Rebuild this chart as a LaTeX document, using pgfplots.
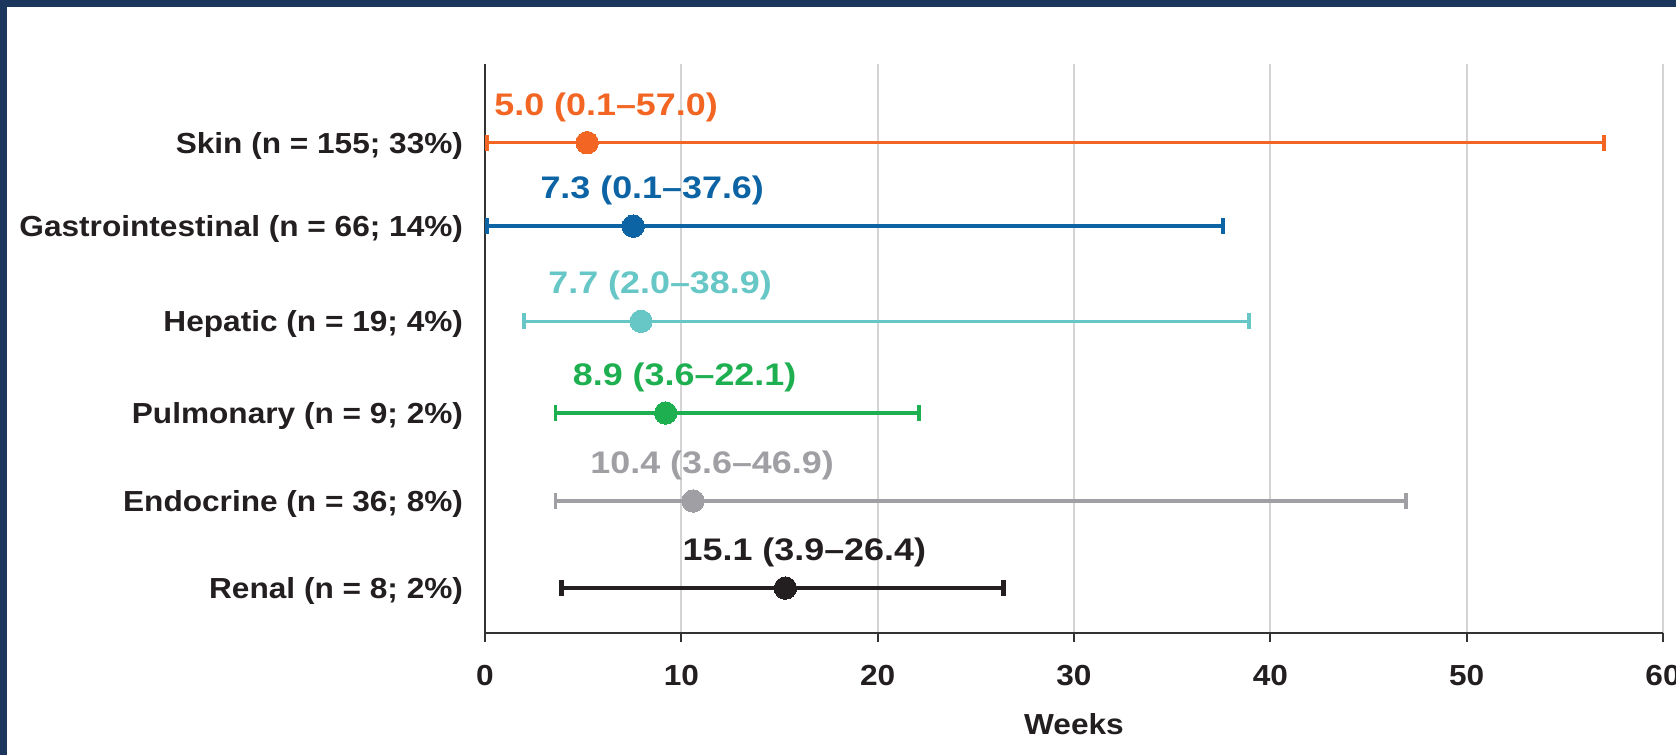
\documentclass[border=0pt]{standalone}
\usepackage{pgfplots}
\pgfplotsset{compat=1.18}
\usepackage{fontspec}
\setmainfont{Liberation Sans}
\newfontfamily\lab[FakeStretch=1.09]{Liberation Sans}
\newfontfamily\ann[FakeStretch=1.15]{Liberation Sans}
\definecolor{navy}{RGB}{28,55,94}
\definecolor{skinc}{RGB}{242,101,34}
\definecolor{gic}{RGB}{12,100,164}
\definecolor{hepc}{RGB}{102,199,198}
\definecolor{pulc}{RGB}{30,176,80}
\definecolor{endoc}{RGB}{160,160,164}
\definecolor{renc}{RGB}{35,31,32}
\definecolor{axisc}{RGB}{51,51,51}
\definecolor{gridc}{RGB}{212,212,212}
\definecolor{txtc}{RGB}{35,31,32}
\pgfplotsset{
  ebar/.style 2 args={
    error bars/.cd, x dir=both, x explicit,
    error bar style={line width=#2, color=#1},
    error mark options={color=#1, line width=#2, mark size=4pt, rotate=90},
    /pgfplots/.cd,
    color=#1, mark=*, mark size=5.6pt, line width=#2,
    mark options={solid, fill=#1, draw=#1, line width=0pt},
    nodes near coords style={text=#1}},
}
\begin{document}
\begin{tikzpicture}
\useasboundingbox (0,0) rectangle (838pt,377.5pt);
\fill[navy] (0,0) rectangle (838pt,377.5pt);
\fill[white] (3.7pt,0) rectangle (838pt,374pt);
\clip (0,0) rectangle (838pt,377.5pt);
\begin{axis}[
  scale only axis, width=589pt, height=284.5pt,
  at={(242.5pt,61pt)}, anchor=south west,
  xmin=0, xmax=60, ymin=0.52, ymax=6.856,
  axis x line=bottom, axis y line=left,
  axis line style={-, draw=axisc, line width=1pt},
  xtick={0,10,...,60}, ytick={1.02,1.99,2.97,3.99,5.05,5.98},
  yticklabels={{Renal (n = 8; 2\%)},{Endocrine (n = 36; 8\%)},{Pulmonary (n = 9; 2\%)},{Hepatic (n = 19; 4\%)},{Gastrointestinal (n = 66; 14\%)},{Skin (n = 155; 33\%)}},
  /pgf/number format/assume math mode=true,
  tick align=outside, major tick length=4.5pt,
  xtick style={draw=axisc, line width=1pt},
  ytick style={draw=none},
  xmajorgrids, grid style={draw=gridc, line width=0.9pt},
  xticklabel style={font=\lab\bfseries\fontsize{14.5}{17}\selectfont, text=txtc, anchor=base, inner sep=0pt, yshift=-22pt},
  yticklabel style={font=\lab\bfseries\fontsize{14.5}{17}\selectfont, text=txtc, anchor=base east, inner sep=0pt, xshift=-6.3pt, yshift=-5.2pt},
  xlabel={Weeks},
  xlabel style={font=\lab\bfseries\fontsize{14.5}{17}\selectfont, text=txtc, at={(axis description cs:0.5,0)}, anchor=base, inner sep=0pt, yshift=-51pt},
  every node near coord/.append style={anchor=base, inner sep=0pt, xshift=9.5pt, yshift=13.7pt, font=\ann\bfseries\fontsize{15.6}{18}\selectfont},
  clip=false,
]
\addplot[ebar={skinc}{1.8pt}, nodes near coords={5.0 (0.1–57.0)}] table[x=med, y=row, x error plus expr=\thisrow{hi}-\thisrow{med}, x error minus expr=\thisrow{med}-\thisrow{lo}] {
row med lo hi
5.98 5.2 0.1 57.0
};
\addplot[ebar={gic}{1.8pt}, nodes near coords={7.3 (0.1–37.6)}] table[x=med, y=row, x error plus expr=\thisrow{hi}-\thisrow{med}, x error minus expr=\thisrow{med}-\thisrow{lo}] {
row med lo hi
5.05 7.55 0.1 37.6
};
\addplot[ebar={hepc}{1.8pt}, nodes near coords={7.7 (2.0–38.9)}] table[x=med, y=row, x error plus expr=\thisrow{hi}-\thisrow{med}, x error minus expr=\thisrow{med}-\thisrow{lo}] {
row med lo hi
3.99 7.95 2.0 38.9
};
\addplot[ebar={pulc}{1.8pt}, nodes near coords={8.9 (3.6–22.1)}] table[x=med, y=row, x error plus expr=\thisrow{hi}-\thisrow{med}, x error minus expr=\thisrow{med}-\thisrow{lo}] {
row med lo hi
2.97 9.2 3.6 22.1
};
\addplot[ebar={endoc}{1.8pt}, nodes near coords={10.4 (3.6–46.9)}] table[x=med, y=row, x error plus expr=\thisrow{hi}-\thisrow{med}, x error minus expr=\thisrow{med}-\thisrow{lo}] {
row med lo hi
1.99 10.6 3.6 46.9
};
\addplot[ebar={renc}{2.2pt}, nodes near coords={15.1 (3.9–26.4)}] table[x=med, y=row, x error plus expr=\thisrow{hi}-\thisrow{med}, x error minus expr=\thisrow{med}-\thisrow{lo}] {
row med lo hi
1.02 15.3 3.9 26.4
};
\end{axis}
\end{tikzpicture}
\end{document}
